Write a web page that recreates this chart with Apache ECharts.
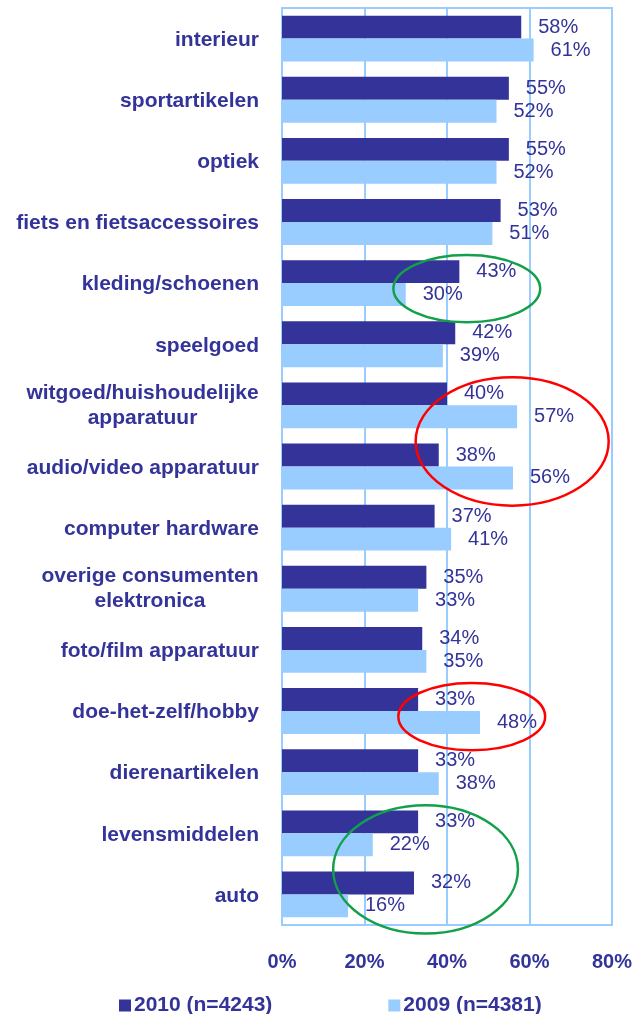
<!DOCTYPE html>
<html>
<head>
<meta charset="utf-8">
<script src="https://cdn.jsdelivr.net/npm/echarts@6/dist/echarts.min.js"></script>
<style>
html,body{margin:0;padding:0;background:#fff;}
#c{width:635px;height:1014px;}
</style>
</head>
<body>
<div id="c"></div>
<script>
const categories = [
  "interieur",
  "sportartikelen",
  "optiek",
  "fiets en fietsaccessoires",
  "kleding/schoenen",
  "speelgoed",
  "witgoed/huishoudelijke\napparatuur",
  "audio/video apparatuur",
  "computer hardware",
  "overige consumenten\nelektronica",
  "foto/film apparatuur",
  "doe-het-zelf/hobby",
  "dierenartikelen",
  "levensmiddelen",
  "auto"
];
const seriesNames = ["2010 (n=4243)", "2009 (n=4381)"];
const values2010 = [58, 55, 55, 53, 43, 42, 40, 38, 37, 35, 34, 33, 33, 33, 32];
const values2009 = [61, 52, 52, 51, 30, 39, 57, 56, 41, 33, 35, 48, 38, 22, 16];
const xTicks = [0, 20, 40, 60, 80];

// annotation ellipses: category span and centre value (in %)
const annotations = [
  { fromCat: 4, toCat: 4, centerValue: 44.8, halfWidthValue: 17.8, color: "#12A04A" },
  { fromCat: 6, toCat: 7, centerValue: 55.8, halfWidthValue: 23.4, color: "#FF0000" },
  { fromCat: 11, toCat: 11, centerValue: 46.0, halfWidthValue: 17.8, color: "#FF0000" },
  { fromCat: 13, toCat: 14, centerValue: 34.8, halfWidthValue: 22.4, color: "#12A04A" }
];

const NAVY = "#333399";
const LIGHT = "#99CCFF";
const FONT = "'Liberation Sans', Arial, sans-serif";
const CAT_FONT_SIZE = 21;
const CAT_LINE_HEIGHT = 25;

const measureCtx = document.createElement("canvas").getContext("2d");
measureCtx.font = "bold " + CAT_FONT_SIZE + "px " + FONT;
function lineWidth(c) {
  return Math.ceil(Math.max.apply(null, c.split("\n").map(l => measureCtx.measureText(l).width)));
}
function catFormatter(v) {
  const lines = v.split("\n");
  if (lines.length === 1) return "{s|" + v + "}";
  const w = lineWidth(v);
  return lines.map(l => "{c" + w + "|" + l + "}").join("\n");
}
const rich = {
  s: { fontSize: CAT_FONT_SIZE, fontWeight: "bold", color: NAVY, fontFamily: FONT, lineHeight: CAT_LINE_HEIGHT, padding: [3, 0, 0, 0] }
};
categories.forEach(c => {
  if (c.indexOf("\n") >= 0) {
    const w = lineWidth(c);
    rich["c" + w] = { width: w, align: "center", fontSize: CAT_FONT_SIZE, fontWeight: "bold", color: NAVY, fontFamily: FONT, lineHeight: CAT_LINE_HEIGHT };
  }
});

const chart = echarts.init(document.getElementById("c"), null, { renderer: "canvas" });
const option = {
  animation: false,
  backgroundColor: "#fff",
  textStyle: { fontFamily: FONT },
  grid: {
    left: 282, right: 23, top: 8, bottom: 89,
    show: true, borderColor: LIGHT, borderWidth: 2, backgroundColor: "transparent"
  },
  legend: {
    data: seriesNames,
    left: 114, top: 990,
    icon: "rect", itemWidth: 12, itemHeight: 12, itemGap: 116,
    textStyle: { color: NAVY, fontWeight: "bold", fontSize: 21, fontFamily: FONT, padding: [0, 0, 0, -2] }
  },
  xAxis: {
    type: "value",
    min: xTicks[0], max: xTicks[xTicks.length - 1], interval: 20,
    axisLine: { show: true, lineStyle: { color: LIGHT, width: 2 } },
    axisTick: { show: false },
    splitLine: { show: true, lineStyle: { color: LIGHT, width: 2 } },
    axisLabel: { formatter: "{value}%", color: NAVY, fontWeight: "bold", fontSize: 20, margin: 27, fontFamily: FONT }
  },
  yAxis: {
    type: "category",
    data: categories,
    inverse: true,
    axisLine: { show: true, lineStyle: { color: LIGHT, width: 2 } },
    axisTick: { show: false },
    axisLabel: {
      color: NAVY, fontWeight: "bold", fontSize: CAT_FONT_SIZE, fontFamily: FONT,
      margin: 23, lineHeight: CAT_LINE_HEIGHT, formatter: catFormatter, rich: rich, interval: 0
    }
  },
  series: [
    {
      name: seriesNames[0], type: "bar", data: values2010,
      itemStyle: { color: NAVY },
      barGap: "0%", barCategoryGap: "25%",
      label: { show: true, position: "right", distance: 17, formatter: "{c}%", color: NAVY, fontSize: 20, fontFamily: FONT }
    },
    {
      name: seriesNames[1], type: "bar", data: values2009,
      itemStyle: { color: LIGHT },
      barGap: "0%", barCategoryGap: "25%",
      label: { show: true, position: "right", distance: 17, formatter: "{c}%", color: NAVY, fontSize: 20, fontFamily: FONT }
    }
  ]
};
chart.setOption(option);

function drawAnnotations() {
  const toPx = (v, cat) => chart.convertToPixel({ gridIndex: 0 }, [v, categories[cat]]);
  const bandPx = toPx(0, 1)[1] - toPx(0, 0)[1];
  const graphics = annotations.map(a => {
    const y1 = toPx(0, a.fromCat)[1];
    const y2 = toPx(0, a.toCat)[1];
    const cx = toPx(a.centerValue, a.fromCat)[0];
    const rx = toPx(a.halfWidthValue, a.fromCat)[0] - toPx(0, a.fromCat)[0];
    const cy = (y1 + y2) / 2 + bandPx * 0.09;
    const ry = (y2 - y1) / 2 + bandPx * 0.55;
    return {
      type: "ellipse",
      shape: { cx: cx, cy: cy, rx: rx, ry: ry },
      style: { fill: "none", stroke: a.color, lineWidth: 2.5 },
      z: 100
    };
  });
  chart.setOption({ graphic: graphics });
}
drawAnnotations();
</script>
</body>
</html>
